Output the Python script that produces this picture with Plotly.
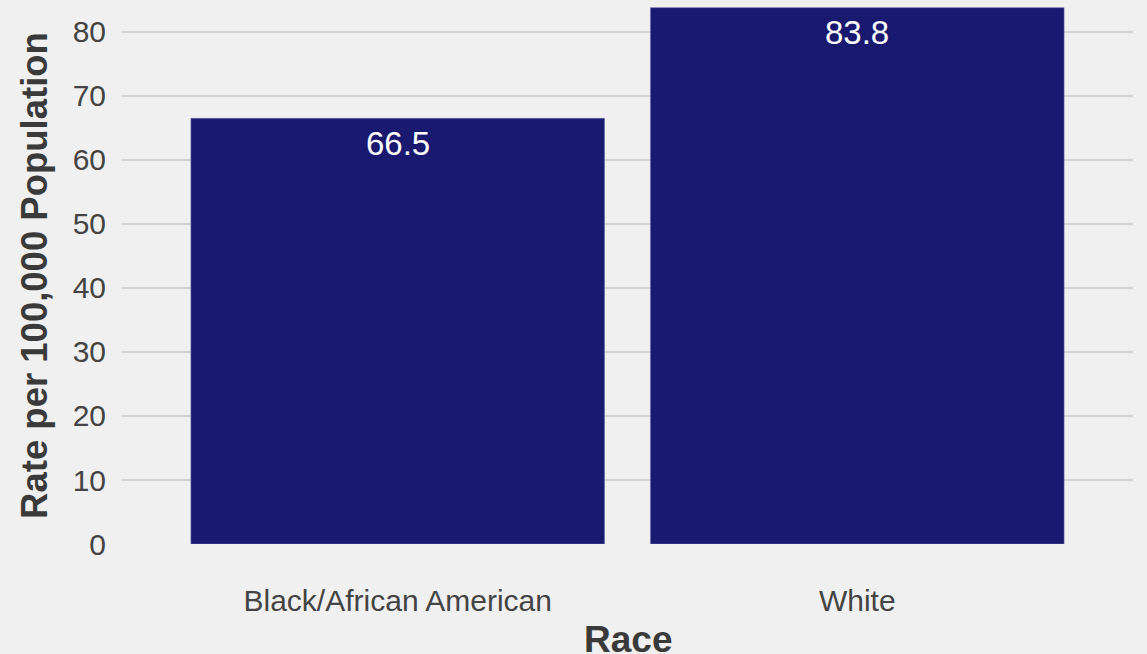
import plotly.graph_objects as go

categories = ["Black/African American", "White"]
rates = [66.5, 83.8]
y_ticks = [0, 10, 20, 30, 40, 50, 60, 70, 80]
x_title = "Race"
y_title = "Rate per 100,000 Population"

fig = go.Figure(go.Bar(
    x=categories,
    y=rates,
    marker=dict(color="#191970", line=dict(color="#6a6aa8", width=0.6)),
    width=0.9,
    hoverinfo="skip",
))

for cat, val in zip(categories, rates):
    fig.add_annotation(
        x=cat, y=val, text=f"{val:.1f}", showarrow=False,
        yanchor="middle", yshift=-25,
        font=dict(color="white", size=33, family="Liberation Sans, Arial"),
    )

fig.add_annotation(
    xref="paper", yref="paper", x=0.5, y=0, yshift=-95,
    text=f"<b>{x_title}</b>", showarrow=False, yanchor="middle", xanchor="center",
    font=dict(size=37, color="#3a3a3a", family="Liberation Sans, Arial"),
)

fig.update_layout(
    width=1147, height=654,
    paper_bgcolor="#f0f0f0", plot_bgcolor="#f0f0f0",
    margin=dict(l=122, r=14, t=7, b=110),
    font=dict(family="Liberation Sans, Arial", color="#444444"),
    showlegend=False,
)
fig.update_xaxes(
    range=[-0.6, 1.6],
    automargin=False,
    showgrid=False, zeroline=False, showline=False,
    tickfont=dict(size=30, color="#444444"),
    ticks="outside", ticklen=0, ticklabelstandoff=30,
)
fig.update_yaxes(
    range=[0, 83.9],
    automargin=False,
    tickvals=y_ticks,
    showgrid=True, gridcolor="#d2d2d2", gridwidth=2,
    zeroline=False, showline=False,
    tickfont=dict(size=30, color="#444444"),
    ticks="outside", ticklen=0, ticklabelstandoff=9,
    title=dict(text=f"<b>{y_title}</b>", font=dict(size=36.5, color="#3a3a3a"), standoff=13),
)

fig.write_html("out.html", config={"displayModeBar": False},
               post_script="document.body.style.margin='0';document.body.style.overflow='hidden';")
